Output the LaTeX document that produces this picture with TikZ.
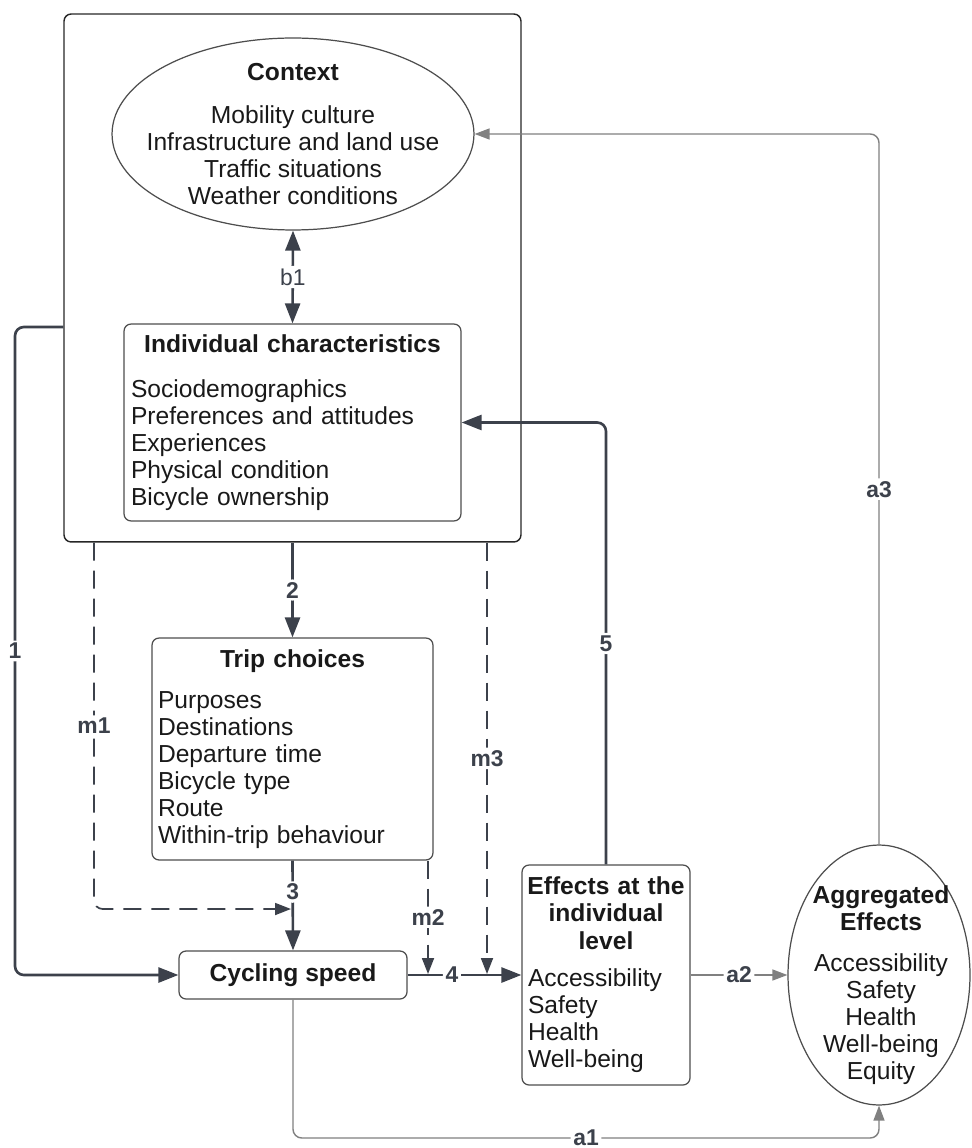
\documentclass[tikz,border=0pt]{standalone}
\usepackage{fontspec}
\setmainfont{Liberation Sans}
\usepackage{xcolor}
\usetikzlibrary{arrows.meta,positioning,shapes.geometric}

\definecolor{linedark}{HTML}{3C414B}
\definecolor{linegray}{HTML}{808080}
\definecolor{boxline}{HTML}{4D4D4D}

\begin{document}
\begin{tikzpicture}[
    x=0.02cm, y=-0.02cm,
    >={Triangle[length=0.4cm,width=0.3cm]},
    every node/.style={font=\fontsize{14}{15.4}\selectfont, text=black!90},
    box/.style={draw=boxline,line width=0.7pt,rounded corners=4pt,inner sep=0pt},
    oval/.style={draw=boxline,line width=0.7pt,ellipse,inner sep=0pt},
    strong/.style={draw=linedark,line width=1.5pt,rounded corners=5pt},
    weak/.style={draw=linegray,line width=0.8pt,rounded corners=5pt,
        >={Triangle[length=0.3cm,width=0.22cm]}},
    moder/.style={draw=linedark,line width=1pt,rounded corners=5pt,
        dash pattern=on 0.36cm off 0.2cm,
        >={Triangle[length=0.32cm,width=0.24cm]}},
    lbl/.style={fill=white,inner sep=1.5pt,text=linedark,
        font=\fontsize{13}{14}\selectfont\bfseries}
]
\useasboundingbox (0,0) rectangle (971,1148);

% Context group
\node[draw=black!85,line width=0.8pt,rounded corners=4pt,
minimum width=9.14cm,minimum height=10.56cm] (grp) at (292.5,278) {};

\node[oval,minimum width=7.24cm,minimum height=3.84cm] (ctx) at (293,134) {};
\node[align=center] (ctxtext) at (ctx.center)
{\textbf{Context}\\[9pt]
Mobility culture\\
Infrastructure and land use\\
Traffic situations\\
Weather conditions};

\node[box,minimum width=6.74cm,minimum height=3.94cm,
text width=6.46cm,align=left] (ind) at (292.5,422.5)
{\makebox[\linewidth]{\bfseries Individual characteristics}\\[10pt]
Sociodemographics\\
Preferences and attitudes\\
Experiences\\
Physical condition\\
Bicycle ownership};

% Trip and speed
\node[box,minimum width=5.62cm,minimum height=4.44cm,
text width=5.38cm,align=left] (trip) at (292.5,749)
{\makebox[\linewidth]{\bfseries Trip choices}\\[8pt]
Purposes\\
Destinations\\
Departure time\\
Bicycle type\\
Route\\
Within-trip behaviour};

\node[box,minimum width=4.56cm,minimum height=0.96cm] (cyc) at (293,975)
{\bfseries Cycling speed};

% Effects
\node[box,minimum width=3.36cm,minimum height=4.4cm,
text width=3.12cm,align=left] (eff) at (606,975)
{\makebox[\linewidth]{\bfseries Effects at the}\\
\makebox[\linewidth]{\bfseries individual}\\
\makebox[\linewidth]{\bfseries level}\\[6pt]
Accessibility\\
Safety\\
Health\\
Well-being};

\node[oval,minimum width=3.64cm,minimum height=5.2cm] (agg) at (879,975) {};
\node[align=center] (aggtext) at (881,985)
{\textbf{Aggregated}\\
\textbf{Effects}\\[8pt]
Accessibility\\
Safety\\
Health\\
Well-being\\
Equity};

% solid paths
\draw[strong,<->] (ctx.south) -- node[lbl,font=\fontsize{13}{14}\selectfont] (lb1) {b1} (ind.north);
\draw[strong,->] ([yshift=-0.98cm]grp.west) -- (15,327)
  -- node[lbl] (l1) {1} (15,975) -- (cyc.west);
\draw[strong,->] (grp.south) -- node[lbl] (l2) {2} (trip.north);
\draw[strong,->] (trip.south) -- node[lbl,pos=0.35] (l3) {3} (cyc.north);
\draw[strong,->] (cyc.east) -- node[lbl,pos=0.39] (l4) {4} (eff.west);
\draw[strong,->] (eff.north) |- node[lbl,pos=0.25] (l5) {5} (ind.east);

% dashed paths
\draw[moder,->] (grp.south -| 94,0) -- node[lbl] (lm1) {m1} (94,909) -- (291,909);
\draw[moder,->] (trip.south -| 428,0) -- node[lbl] (lm2) {m2} (428,974);
\draw[moder,->] (grp.south -| 487,0) -- node[lbl] (lm3) {m3} (487,974);

% aggregation
\draw[weak,->] (eff.east) -- node[lbl] (la2) {a2} (agg.west);
\draw[weak,->] (agg.north) |- node[lbl,pos=0.25] (la3) {a3} (ctx.east);
\draw[weak,->] (cyc.south) -- (cyc.south |- 0,1138)
  -- node[lbl] (la1) {a1} (agg.south |- 0,1138) -- (agg.south);

\end{tikzpicture}
\end{document}
